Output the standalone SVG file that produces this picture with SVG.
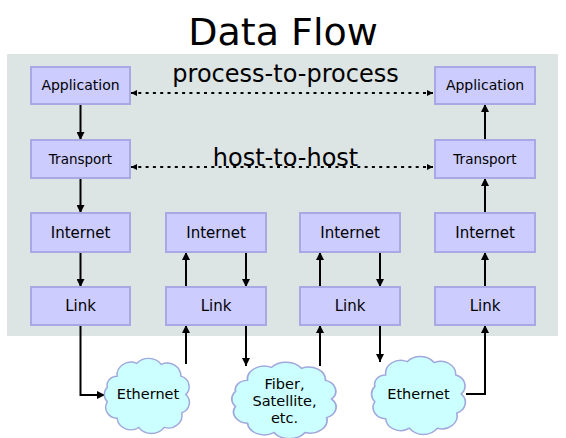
<svg xmlns="http://www.w3.org/2000/svg" width="566" height="438" viewBox="0 0 566 438">
<style>
text{font-family:"DejaVu Sans","Liberation Sans",sans-serif;fill:#000;text-anchor:middle}
.box{fill:#ccccff;stroke:#a8a8e4;stroke-width:2}
.cloud{fill:#ccffff;stroke:#a0a8dc;stroke-width:1.5}
.ln{fill:none;stroke:#000;stroke-width:2}
.dot{fill:none;stroke:#000;stroke-width:2;stroke-dasharray:3 4.3}
</style>
<defs>
<marker id="ah" viewBox="0 0 10 10" refX="10" refY="5" markerWidth="8" markerHeight="8" markerUnits="userSpaceOnUse" orient="auto"><path d="M0,0 L10,5 L0,10 z" fill="#000"/></marker>
<marker id="sh" viewBox="0 0 10 10" refX="10" refY="5" markerWidth="6" markerHeight="6" markerUnits="userSpaceOnUse" orient="auto-start-reverse"><path d="M0,0 L10,5 L0,10 z" fill="#000"/></marker>
<path id="cl" d="M-30,-20 A14 14 0 0 1 -10,-34 A16 16 0 0 1 15,-33 A14 14 0 0 1 35,-20 A12 12 0 0 1 40,0 A12 12 0 0 1 36,20 A14 14 0 0 1 18,36 A16 16 0 0 1 -8,36 A14 14 0 0 1 -30,26 A12 12 0 0 1 -40,8 A12 12 0 0 1 -40,-8 A10 10 0 0 1 -30,-20 Z"/>
</defs>
<text x="283" y="45" font-size="38">Data Flow</text>
<rect x="7" y="54" width="551" height="282" fill="#dde4e4"/>
<text x="285.5" y="82" font-size="24">process-to-process</text>
<text x="285.5" y="166" font-size="24">host-to-host</text>
<g id="connectors">
<path class="dot" d="M131,93 H433" marker-start="url(#sh)" marker-end="url(#sh)"/>
<path class="dot" d="M131,167 H433" marker-start="url(#sh)" marker-end="url(#sh)"/>
<path class="ln" d="M80.5,104 V140" marker-end="url(#ah)"/>
<path class="ln" d="M80.5,178 V213" marker-end="url(#ah)"/>
<path class="ln" d="M80.5,252 V287" marker-end="url(#ah)"/>
<path class="ln" d="M80.5,325 V395 H105" marker-end="url(#ah)"/>
<path class="ln" d="M186,364 V325" marker-end="url(#ah)"/>
<path class="ln" d="M186,287 V252" marker-end="url(#ah)"/>
<path class="ln" d="M246,252 V287" marker-end="url(#ah)"/>
<path class="ln" d="M246,325 V366" marker-end="url(#ah)"/>
<path class="ln" d="M320,366 V325" marker-end="url(#ah)"/>
<path class="ln" d="M320,287 V252" marker-end="url(#ah)"/>
<path class="ln" d="M380,252 V287" marker-end="url(#ah)"/>
<path class="ln" d="M380,325 V362" marker-end="url(#ah)"/>
<path class="ln" d="M466,394 H485 V325" marker-end="url(#ah)"/>
<path class="ln" d="M485,287 V252" marker-end="url(#ah)"/>
<path class="ln" d="M485,213 V178" marker-end="url(#ah)"/>
<path class="ln" d="M485,140 V104" marker-end="url(#ah)"/>
</g>
<g id="app1"><rect class="box" x="31" y="67" width="99" height="37"/><text x="80.5" y="90" font-size="14">Application</text></g>
<g id="trans1"><rect class="box" x="31" y="140" width="99" height="38"/><text x="80.5" y="164" font-size="13.5">Transport</text></g>
<g id="inet1"><rect class="box" x="31" y="213" width="99" height="39"/><text x="80.5" y="238" font-size="15">Internet</text></g>
<g id="link1"><rect class="box" x="31" y="287" width="99" height="38"/><text x="80.5" y="311" font-size="15">Link</text></g>
<g id="inet2"><rect class="box" x="166" y="213" width="100" height="39"/><text x="216" y="238" font-size="15">Internet</text></g>
<g id="link2"><rect class="box" x="166" y="287" width="100" height="38"/><text x="216" y="311" font-size="15">Link</text></g>
<g id="inet3"><rect class="box" x="300" y="213" width="100" height="39"/><text x="350" y="238" font-size="15">Internet</text></g>
<g id="link3"><rect class="box" x="300" y="287" width="100" height="38"/><text x="350" y="311" font-size="15">Link</text></g>
<g id="app4"><rect class="box" x="435" y="67" width="100" height="37"/><text x="485" y="90" font-size="14">Application</text></g>
<g id="trans4"><rect class="box" x="435" y="140" width="100" height="38"/><text x="485" y="164" font-size="13.5">Transport</text></g>
<g id="inet4"><rect class="box" x="435" y="213" width="100" height="39"/><text x="485" y="238" font-size="15">Internet</text></g>
<g id="link4"><rect class="box" x="435" y="287" width="100" height="38"/><text x="485" y="311" font-size="15">Link</text></g>
<g id="eth1"><use href="#cl" class="cloud" transform="translate(146.5,394.5) scale(0.98,0.915)"/><text x="148" y="399" font-size="14.5">Ethernet</text></g>
<g id="fiber"><use href="#cl" class="cloud" transform="translate(283.5,399) scale(1.2,0.93)"/><text x="284.5" y="389" font-size="14.5">Fiber,</text><text x="284.5" y="406" font-size="14.5">Satellite,</text><text x="284.5" y="423" font-size="14.5">etc.</text></g>
<g id="eth2"><use href="#cl" class="cloud" transform="translate(418,394) scale(1.08,0.95)"/><text x="418.5" y="399" font-size="14.5">Ethernet</text></g>
</svg>
